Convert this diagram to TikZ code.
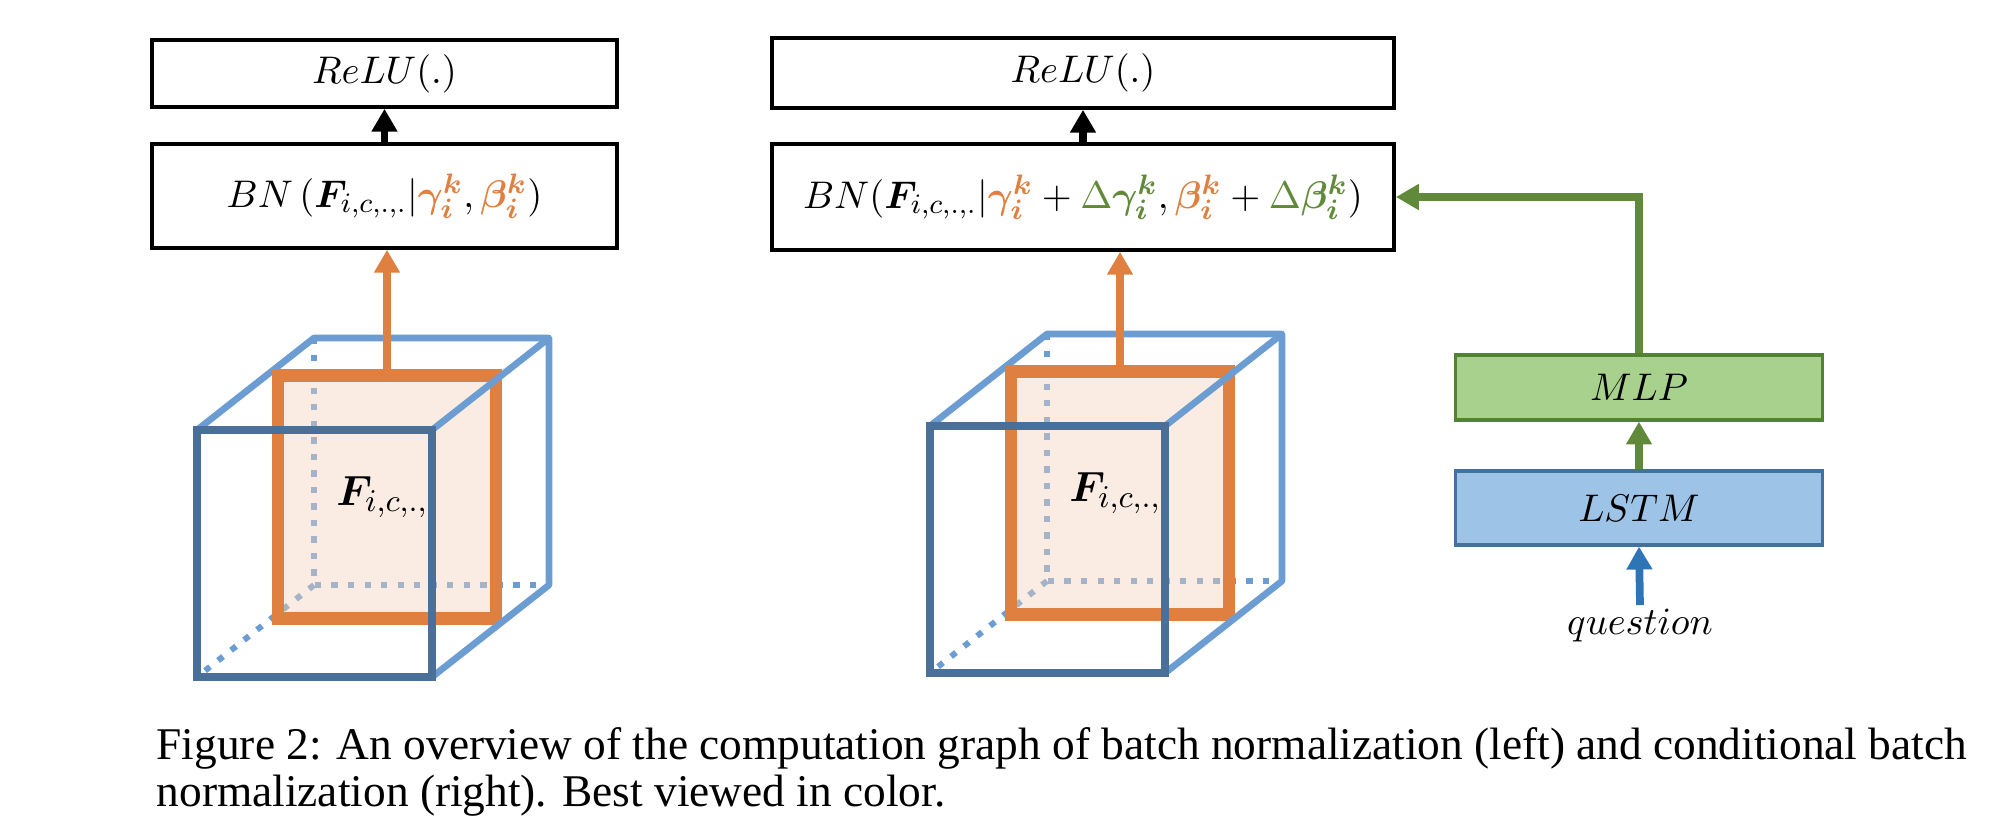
\documentclass[tikz,border=0pt]{standalone}
\usepackage{fontspec}
\usepackage{bm}
\newfontfamily\capfont{Liberation Serif}
\usetikzlibrary{arrows.meta}
\definecolor{orng}{RGB}{224,128,64}
\definecolor{peach}{RGB}{243,210,186}
\definecolor{lblue}{RGB}{108,157,210}
\definecolor{dblue}{RGB}{74,112,153}
\definecolor{grn}{RGB}{96,138,58}
\definecolor{mlpfill}{RGB}{169,209,142}
\definecolor{mlpline}{RGB}{84,130,53}
\definecolor{lstmfill}{RGB}{157,195,230}
\definecolor{lstmline}{RGB}{65,113,156}
\definecolor{qblue}{RGB}{46,117,182}
\begin{document}
\begin{tikzpicture}[x=0.01cm, y=-0.01cm]
\tikzstyle{box}=[draw=black, line width=1pt, inner sep=0pt, font=\fontsize{10.8}{13}\selectfont]
\tikzstyle{arr}=[line width=2.2pt, -{Triangle[width=7pt,length=6.5pt]}]
\tikzstyle{hidden}=[lblue, line width=1.7pt, dash pattern=on 1.8pt off 2.9pt]
\tikzstyle{edge}=[lblue, line width=1.9pt, line join=round]
\tikzstyle{front}=[dblue, line width=2.2pt]
\tikzstyle{fmap}=[draw=orng, line width=3.5pt, fill=peach, fill opacity=0.42, text opacity=1, minimum width=2.18cm, minimum height=2.43cm, inner sep=0pt, font=\fontsize{13}{15}\selectfont]
\useasboundingbox (0,0) rectangle (2002,820);

% batch normalization (left)
\node[box, minimum width=4.65cm, minimum height=0.67cm] (reluL) at (384.5,73.5) {$ReLU(.)$};
\node[box, minimum width=4.65cm, minimum height=1.04cm] (bnL) at (384.5,196) {$BN\,(\bm{F}_{i,c,.,.}|\textcolor{orng}{\bm{\gamma_i^k}},\textcolor{orng}{\bm{\beta_i^k}})$};

% conditional batch normalization (right)
\node[box, minimum width=6.22cm, minimum height=0.70cm] (reluR) at (1083,73) {$ReLU(.)$};
\node[box, minimum width=6.22cm, minimum height=1.06cm] (bnR) at (1083,197) {$BN(\bm{F}_{i,c,.,.}|\textcolor{orng}{\bm{\gamma_i^k}}+\textcolor{grn}{\Delta\bm{\gamma_i^k}},\textcolor{orng}{\bm{\beta_i^k}}+\textcolor{grn}{\Delta\bm{\beta_i^k}})$};

\node[box, draw=mlpline, fill=mlpfill, line width=0.9pt, minimum width=3.66cm, minimum height=0.65cm] (mlp) at (1639,387.5) {$MLP$};
\node[box, draw=lstmline, fill=lstmfill, line width=0.9pt, minimum width=3.66cm, minimum height=0.74cm] (lstm) at (1639,508) {$LSTM$};
\node[anchor=north, inner sep=1pt, font=\fontsize{10.8}{13}\selectfont] (question) at (1640,605) {$question$};

% feature cubes
\foreach \dx/\dy/\n in {0/0/L, 733/-4/R}{
\begin{scope}[shift={(\dx,\dy)}]
\draw[hidden] (314,338) -- (314,585) -- (549,585);
\draw[hidden] (314,585) -- (197,677);
\draw[edge] (197,430) -- (314,338) -- (549,338);
\node[fmap] (fmap\n) at (387,497) {$\bm{F}_{i,c,.,.}$};
\draw[edge] (432,430) -- (549,338) -- (549,585) -- (432,677);
\draw[front] (197,430) rectangle (432,677);
\end{scope}
}

\draw[arr] (bnL.north) -- (reluL.south);
\draw[arr] (bnR.north) -- (reluR.south);
\draw[arr, orng] (fmapL.north) -- (fmapL.north |- bnL.south);
\draw[arr, orng] (fmapR.north) -- (fmapR.north |- bnR.south);
\draw[arr, grn] (mlp.north) |- (bnR.east);
\draw[arr, grn] (lstm.north) -- (mlp.south);
\draw[arr, qblue] (question.north) -- (lstm.south);

\node[anchor=north west, align=left, inner sep=0pt, font=\capfont\fontsize{12.9}{13.4}\selectfont] (caption) at (156,727) {Figure 2: An overview of the computation graph of batch normalization (left) and conditional batch\\normalization (right). Best viewed in color.};
\end{tikzpicture}
\end{document}
